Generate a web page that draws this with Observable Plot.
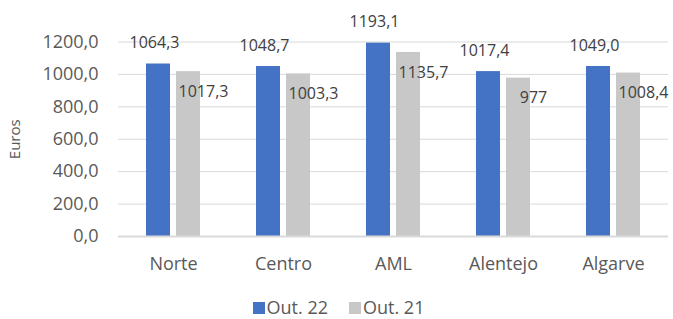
<!DOCTYPE html>
<html>
<head>
<meta charset="utf-8">
<script src="https://cdn.jsdelivr.net/npm/d3@7"></script>
<script src="https://cdn.jsdelivr.net/npm/@observablehq/plot@0.6"></script>
<style>
  body { margin: 0; background: #fff; font-family: "Open Sans", sans-serif; }
  #chart { width: 673px; }
  .legend { display: flex; justify-content: center; gap: 21px; font-size: 18px; color: #595959; line-height: 19px; margin-left: 4px; }
  .legend span.sw { display: inline-block; width: 12px; height: 12px; margin-right: 2px; }
  .legend .item { display: flex; align-items: center; }
</style>
</head>
<body>
<div id="chart"></div>
<script>
const regions = ["Norte", "Centro", "AML", "Alentejo", "Algarve"];
const seriesNames = ["Out. 22", "Out. 21"];
const out22 = [1064.3, 1048.7, 1193.1, 1017.4, 1049.0];
const out21 = [1017.3, 1003.3, 1135.7, 977, 1008.4];
const out22Labels = ["1064,3", "1048,7", "1193,1", "1017,4", "1049,0"];
const out21Labels = ["1017,3", "1003,3", "1135,7", "977", "1008,4"];
const yTicks = [0, 200, 400, 600, 800, 1000, 1200];
const colors = ["#4472C4", "#C8C8C8"];

const rows = [];
regions.forEach((r, i) => {
  rows.push({region: r, series: seriesNames[0], value: out22[i], label: out22Labels[i]});
  rows.push({region: r, series: seriesNames[1], value: out21[i], label: out21Labels[i]});
});
const fmt = d => d.toFixed(1).replace(".", ",");

const chart = Plot.plot({
  width: 673,
  height: 298,
  marginTop: 41.5,
  marginBottom: 62,
  marginLeft: 118,
  marginRight: 5,
  style: {fontFamily: "Open Sans, sans-serif", color: "#595959", background: "#fff"},
  fx: {domain: regions, padding: 0, axis: null},
  x: {domain: seriesNames, paddingInner: 0.21, paddingOuter: 0.88, axis: null},
  y: {domain: [0, 1200], axis: null},
  color: {domain: seriesNames, range: colors},
  marks: [
    Plot.gridY(yTicks, {stroke: "#d9d9d9", strokeOpacity: 1}),
    Plot.axisY({ticks: yTicks, tickSize: 0, tickPadding: 20, tickFormat: fmt, fontSize: 18, label: null}),
    Plot.axisY({ticks: [], label: "Euros", labelAnchor: "center", labelArrow: "none", labelOffset: 109, fontSize: 15}),
    Plot.axisFx({anchor: "bottom", tickSize: 0, tickPadding: 21, fontSize: 18, label: null}),
    Plot.barY(rows, {fx: "region", x: "series", y: "value", fill: "series"}),
    Plot.ruleY([0], {stroke: "#d9d9d9", strokeWidth: 2}),
    Plot.text(rows.filter(d => d.series === seriesNames[0]), {fx: "region", x: "series", y: "value", text: "label", dy: -21, dx: -4, fontSize: 16, fill: "#404040"}),
    Plot.text(rows.filter(d => d.series === seriesNames[1]), {fx: "region", x: "series", y: "value", text: "label", dy: 20, dx: 15, fontSize: 16, fill: "#404040"})
  ]
});
document.getElementById("chart").appendChild(chart);

const legend = document.createElement("div");
legend.className = "legend";
seriesNames.forEach((s, i) => {
  const item = document.createElement("div");
  item.className = "item";
  const sw = document.createElement("span");
  sw.className = "sw";
  sw.style.background = colors[i];
  item.appendChild(sw);
  item.appendChild(document.createTextNode(s));
  legend.appendChild(item);
});
document.getElementById("chart").appendChild(legend);
</script>
</body>
</html>
